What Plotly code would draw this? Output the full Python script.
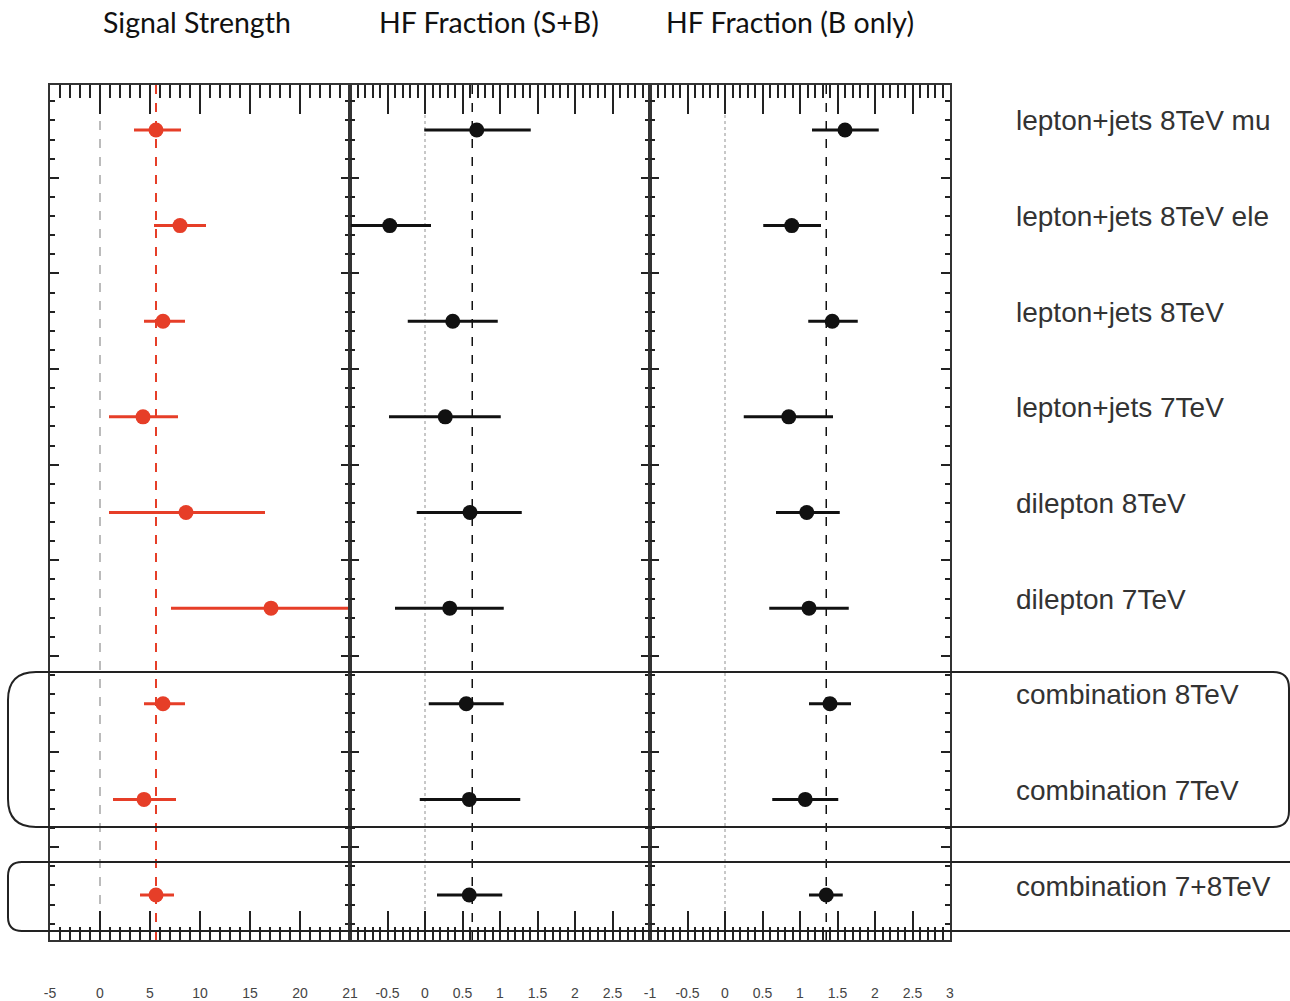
import plotly.graph_objects as go

# ---------------- data ----------------
categories = ["lepton+jets 8TeV mu", "lepton+jets 8TeV ele", "lepton+jets 8TeV",
              "lepton+jets 7TeV", "dilepton 8TeV", "dilepton 7TeV",
              "combination 8TeV", "combination 7TeV", "combination 7+8TeV"]

sig_val = [5.6, 8.0, 6.3, 4.3, 8.6, 17.1, 6.3, 4.4, 5.6]
sig_lo = [3.4, 5.4, 4.4, 0.9, 0.9, 7.1, 4.4, 1.3, 4.0]
sig_hi = [8.1, 10.6, 8.5, 7.8, 16.5, 25.0, 8.5, 7.6, 7.4]

hfsb_val = [0.69, -0.47, 0.37, 0.27, 0.60, 0.33, 0.55, 0.59, 0.59]
hfsb_lo = [-0.01, -0.99, -0.23, -0.48, -0.11, -0.40, 0.05, -0.07, 0.16]
hfsb_hi = [1.41, 0.08, 0.97, 1.01, 1.29, 1.05, 1.05, 1.27, 1.03]

hfb_val = [1.60, 0.89, 1.43, 0.85, 1.09, 1.12, 1.40, 1.07, 1.35]
hfb_lo = [1.16, 0.51, 1.11, 0.25, 0.68, 0.59, 1.12, 0.63, 1.12]
hfb_hi = [2.05, 1.28, 1.77, 1.44, 1.53, 1.65, 1.68, 1.51, 1.57]

sig_ref = 5.6
hfsb_ref = 0.63
hfb_ref = 1.35

panel_titles = ["Signal Strength", "HF Fraction (S+B)", "HF Fraction (B only)"]

sig_ticks = [-5, 0, 5, 10, 15, 20, 25]
sig_ticktext = ["-5", "0", "5", "10", "15", "20", "21"]
hf2_ticks = [-0.5, 0, 0.5, 1, 1.5, 2, 2.5]
hf2_ticktext = ["-0.5", "0", "0.5", "1", "1.5", "2", "2.5"]
hf3_ticks = [-1, -0.5, 0, 0.5, 1, 1.5, 2, 2.5, 3]
hf3_ticktext = ["-1", "-0.5", "0", "0.5", "1", "1.5", "2", "2.5", "3"]

# ---------------- layout geometry ----------------
W, H = 1290, 1001
RED = "rgb(230,62,40)"
BLK = "#111111"

rows = [i + 1 for i in range(len(categories))]


def px(x):
    return x / W


def py(y):
    return 1 - y / H


fig = go.Figure()


def add_series(vals, lo, hi, color, xa, ya):
    fig.add_trace(go.Scatter(
        x=vals, y=rows, mode="markers", xaxis=xa, yaxis=ya,
        marker=dict(color=color, size=15, symbol="circle"),
        error_x=dict(type="data", symmetric=False,
                     array=[h - v for h, v in zip(hi, vals)],
                     arrayminus=[v - l for v, l in zip(vals, lo)],
                     color=color, thickness=3, width=0),
        cliponaxis=False, hoverinfo="skip"))


add_series(sig_val, sig_lo, sig_hi, RED, "x", "y")
add_series(hfsb_val, hfsb_lo, hfsb_hi, BLK, "x2", "y2")
add_series(hfb_val, hfb_lo, hfb_hi, BLK, "x3", "y3")

ydom = [py(940), py(85)]
yrange = [9.47, 0.53]


def xaxis_def(dom, rng, tv, tt, t0, md, anchor):
    return dict(
        domain=dom, range=rng, anchor=anchor,
        showline=True, linecolor="#333", linewidth=2, mirror="ticks",
        ticks="inside", ticklen=29, tickwidth=1.5, tickcolor="#222",
        tickmode="array", tickvals=tv, ticktext=tt,
        minor=dict(tickmode="linear", tick0=t0, dtick=md, ticks="inside",
                   ticklen=13, tickwidth=1.5, tickcolor="#222"),
        showgrid=False, zeroline=False, automargin=False,
        tickfont=dict(family="Liberation Sans", size=14, color="#444"),
        ticklabelstandoff=39, fixedrange=True)


fig.update_layout(
    width=W, height=H, margin=dict(l=0, r=0, t=0, b=0),
    paper_bgcolor="white", plot_bgcolor="white", showlegend=False,
    hovermode=False,
    xaxis=xaxis_def([px(50), px(350)], [-5, 25], sig_ticks, sig_ticktext, -5, 1, "y"),
    xaxis2=xaxis_def([px(350), px(650)], [-1, 3], hf2_ticks, hf2_ticktext, -1, 0.1, "y2"),
    xaxis3=xaxis_def([px(650), px(950)], [-1, 3], hf3_ticks, hf3_ticktext, -1, 0.1, "y3"),
)

for name, anchor in [("yaxis", "x"), ("yaxis2", "x2"), ("yaxis3", "x3")]:
    fig.layout[name] = dict(
        domain=ydom, range=yrange, anchor=anchor, showline=True,
        linecolor="#333", linewidth=2, mirror="ticks", ticks="inside",
        ticklen=9, tickwidth=1.5, tickcolor="#222", showticklabels=False,
        tickmode="array", tickvals=[r + 0.5 for r in rows[:-1]],
        minor=dict(tickmode="linear", tick0=0.5, dtick=0.2, ticks="inside",
                   ticklen=5, tickwidth=1.5, tickcolor="#222"),
        showgrid=False, zeroline=False, fixedrange=True)

shapes = []
# reference lines
for xr, xv, col, dash, w in [("x", 0, "#bbbbbb", "dash", 2),
                             ("x", sig_ref, RED, "dash", 2),
                             ("x2", 0, "#c8c8c8", "dot", 2),
                             ("x2", hfsb_ref, BLK, "dash", 1.5),
                             ("x3", 0, "#c8c8c8", "dot", 2),
                             ("x3", hfb_ref, BLK, "dash", 1.5)]:
    shapes.append(dict(type="line", xref=xr, yref="paper", x0=xv, x1=xv,
                       y0=ydom[0], y1=ydom[1], line=dict(color=col, width=w, dash=dash),
                       layer="below"))


def rbox(x0, y0, x1, y1, rl, rr):
    pts = [
        ("M", (x0 + rl, y0)), ("L", (x1 - rr, y0)),
        ("Q", (x1, y0), (x1, y0 + rr)), ("L", (x1, y1 - rr)),
        ("Q", (x1, y1), (x1 - rr, y1)), ("L", (x0 + rl, y1)),
        ("Q", (x0, y1), (x0, y1 - rl)), ("L", (x0, y0 + rl)),
        ("Q", (x0, y0), (x0 + rl, y0)),
    ]
    s = ""
    for p in pts:
        s += p[0] + " " + " ".join(f"{px(a):.5f},{py(b):.5f}" for a, b in p[1:]) + " "
    return s + "Z"


shapes.append(dict(type="path", xref="paper", yref="paper",
                   path=rbox(8, 672, 1289, 827, 28, 16),
                   line=dict(color="#222", width=2)))
shapes.append(dict(type="path", xref="paper", yref="paper",
                   path=rbox(8, 862, 1310, 931, 14, 14),
                   line=dict(color="#222", width=2)))
fig.update_layout(shapes=shapes)

ann = []
for r, c in zip(rows, categories):
    ann.append(dict(x=px(1014), y=r, xref="paper", yref="y", text=c,
                    showarrow=False, xanchor="left", yanchor="middle", yshift=9,
                    font=dict(family="Liberation Sans", size=28, color="#333")))
for t, cx in zip(panel_titles, [197, 489, 790]):
    ann.append(dict(x=px(cx), y=py(22), xref="paper", yref="paper", text=t,
                    showarrow=False, xanchor="center", yanchor="middle",
                    font=dict(family="Lato", size=28.5, color="#111")))
fig.update_layout(annotations=ann)

fig.write_html("out.html")
